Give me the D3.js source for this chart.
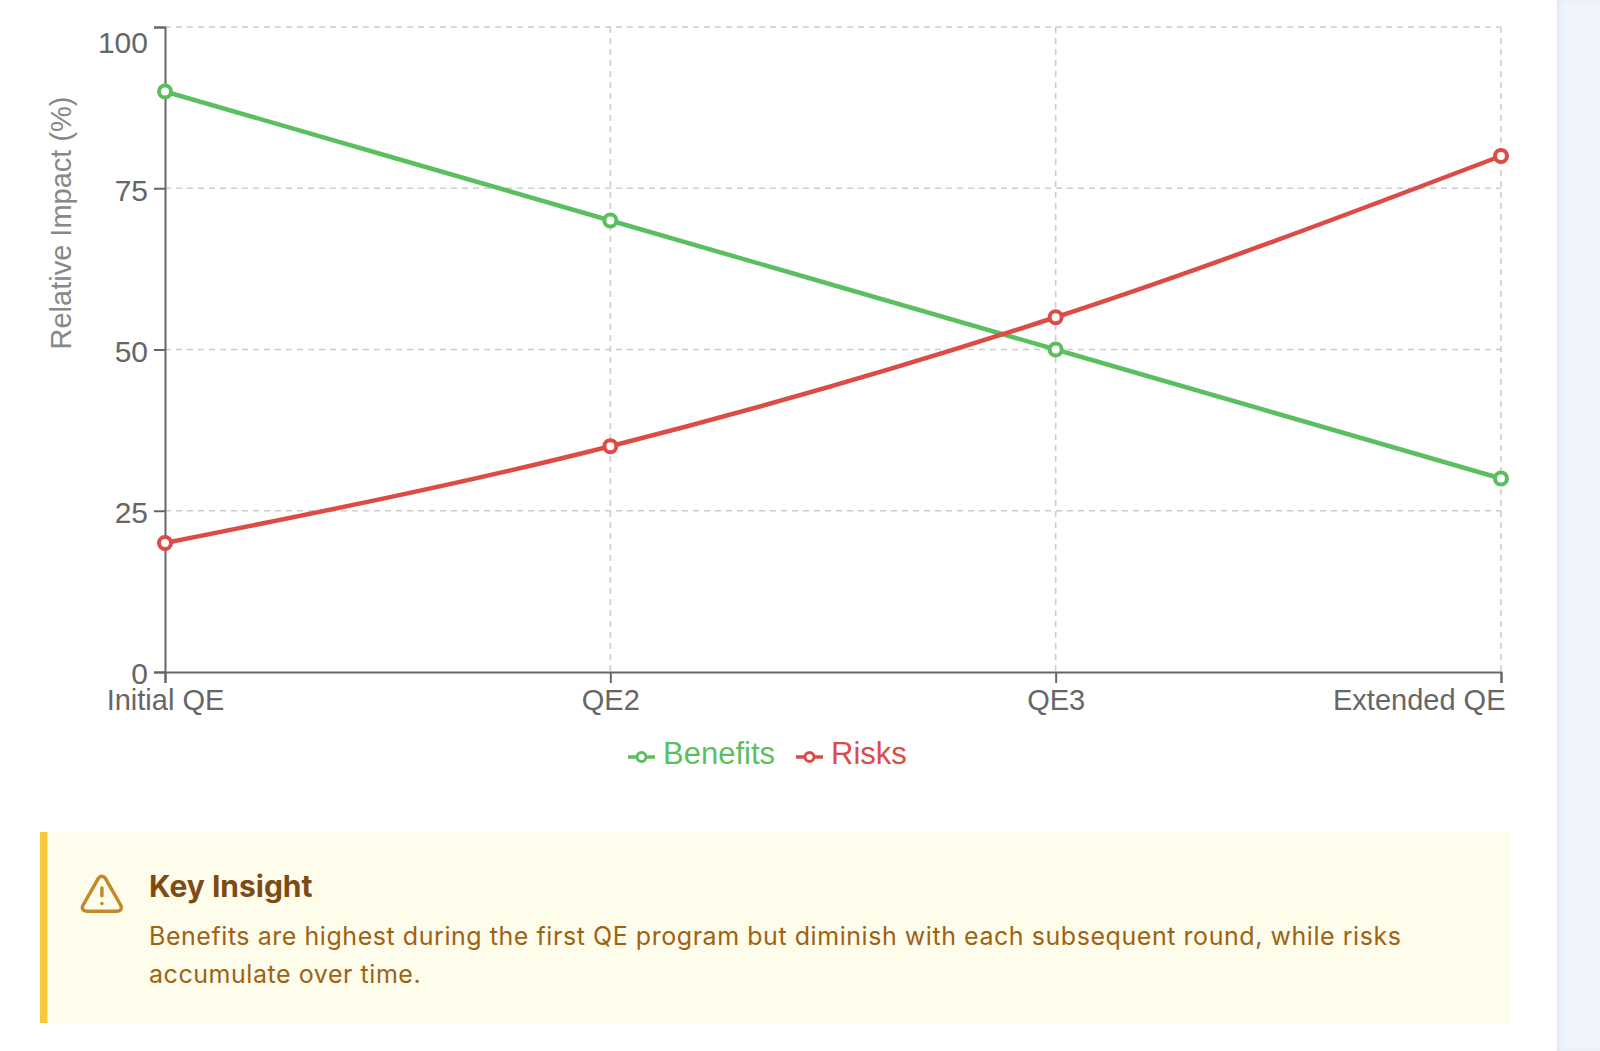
<!DOCTYPE html>
<html>
<head>
<meta charset="utf-8">
<script src="https://cdn.jsdelivr.net/npm/d3@7"></script>
<style>
  html, body { margin: 0; padding: 0; background: #ffffff; }
  body { width: 1600px; height: 1051px; overflow: hidden; position: relative; }
  #side { position: absolute; left: 1557px; top: 0; width: 43px; height: 1051px; background: #eff3fb; box-shadow: inset 3px 0 4px -2px rgba(200,210,230,0.6); }
  svg { position: absolute; left: 0; top: 0; }
</style>
</head>
<body>
<div id="side"></div>
<svg id="chart" width="1557" height="1051"></svg>
<script>
const categories = ["Initial QE", "QE2", "QE3", "Extended QE"];
const benefits = [90, 70, 50, 30];
const risks = [20, 35, 55, 80];
const yTicks = [0, 25, 50, 75, 100];
const seriesNames = ["Benefits", "Risks"];
const seriesColors = ["#5cbf5f", "#dc4b46"];
const yTitle = "Relative Impact (%)";
const insightTitle = "Key Insight";
const insightLines = [
  "Benefits are highest during the first QE program but diminish with each subsequent round, while risks",
  "accumulate over time."
];

(function () {
const svg = d3.select("#chart");
const font = "'Liberation Sans', Arial, Helvetica, sans-serif";
const pLeft = 165, pRight = 1501, pTop = 27, pBottom = 672;

const x = d3.scalePoint().domain(categories).range([pLeft, pRight]);
const y = d3.scaleLinear().domain([0, 100]).range([pBottom, pTop]);

// grid
const grid = svg.append("g");
grid.selectAll("line.h").data(yTicks.filter(v => v > 0)).join("line")
  .attr("x1", pLeft).attr("x2", pRight)
  .attr("y1", d => y(d)).attr("y2", d => y(d))
  .attr("stroke", "#cccccc").attr("stroke-width", 1.6).attr("stroke-dasharray", "6 5");
grid.selectAll("line.v").data(categories.slice(1)).join("line")
  .attr("x1", d => x(d)).attr("x2", d => x(d))
  .attr("y1", pTop).attr("y2", pBottom)
  .attr("stroke", "#cccccc").attr("stroke-width", 1.6).attr("stroke-dasharray", "6 5");

// y axis
const yAxis = d3.axisLeft(y).tickValues(yTicks).tickSize(11).tickPadding(6);
const gy = svg.append("g").attr("transform", `translate(${pLeft},0)`).call(yAxis);
gy.select(".domain").attr("stroke", "#666").attr("stroke-width", 2);
gy.selectAll(".tick line").attr("stroke", "#666").attr("stroke-width", 2);
gy.selectAll(".tick text")
  .attr("fill", "#666").attr("font-family", font).attr("font-size", 30)
  .attr("dy", "0.36em")
  .attr("y", d => Math.max(y(d), pTop + 14) - y(d) + 1);

// x axis
const xAxis = d3.axisBottom(x).tickSize(11).tickPadding(6);
const gx = svg.append("g").attr("transform", `translate(0,${pBottom})`).call(xAxis);
gx.select(".domain").attr("stroke", "#666").attr("stroke-width", 2);
gx.selectAll(".tick line").attr("stroke", "#666").attr("stroke-width", 2);
gx.selectAll(".tick text")
  .attr("fill", "#666").attr("font-family", font).attr("font-size", 29)
  .attr("y", 38).attr("dy", 0)
  .attr("text-anchor", (d, i) => i === categories.length - 1 ? "end" : "middle")
  .attr("x", (d, i) => i === categories.length - 1 ? 4 : 0);

// y title
svg.append("text")
  .attr("transform", `translate(71,223) rotate(-90)`)
  .attr("text-anchor", "middle")
  .attr("fill", "#888").attr("font-family", font).attr("font-size", 29)
  .text(yTitle);

// lines
const line = d3.line().x((d, i) => x(categories[i])).y(d => y(d)).curve(d3.curveMonotoneX);
[benefits, risks].forEach((vals, si) => {
  svg.append("path").datum(vals)
    .attr("d", line).attr("fill", "none")
    .attr("stroke", seriesColors[si]).attr("stroke-width", 4.5);
  svg.append("g").selectAll("circle").data(vals).join("circle")
    .attr("cx", (d, i) => x(categories[i])).attr("cy", d => y(d))
    .attr("r", 6).attr("fill", "#fff")
    .attr("stroke", seriesColors[si]).attr("stroke-width", 4);
});

// legend
const legendItems = [
  { name: seriesNames[0], color: seriesColors[0], x: 628 },
  { name: seriesNames[1], color: seriesColors[1], x: 796 }
];
const lg = svg.append("g");
legendItems.forEach(it => {
  const g = lg.append("g").attr("transform", `translate(${it.x},757)`);
  g.append("line").attr("x1", 0).attr("x2", 27).attr("y1", 0).attr("y2", 0)
    .attr("stroke", it.color).attr("stroke-width", 3.5);
  g.append("circle").attr("cx", 13.5).attr("cy", 0).attr("r", 4.5)
    .attr("fill", "#fff").attr("stroke", it.color).attr("stroke-width", 3);
  g.append("text").attr("x", 35).attr("y", 6.5).attr("fill", it.color)
    .attr("font-family", font).attr("font-size", 31).text(it.name);
});

// insight box
const box = svg.append("g");
box.append("rect").attr("x", 40).attr("y", 832).attr("width", 1470).attr("height", 191).attr("fill", "#fefceb");
box.append("rect").attr("x", 40).attr("y", 832).attr("width", 7.5).attr("height", 191).attr("fill", "#f4c93e");
const icon = box.append("g").attr("transform", "translate(78.5,870.4) scale(1.95)")
  .attr("fill", "none").attr("stroke", "#c28a2a").attr("stroke-width", 1.8)
  .attr("stroke-linecap", "round").attr("stroke-linejoin", "round");
icon.append("path").attr("d", "m21.73 18-8-14a2 2 0 0 0-3.48 0l-8 14A2 2 0 0 0 4 21h16a2 2 0 0 0 1.73-3Z");
icon.append("path").attr("d", "M12 9v4");
icon.append("path").attr("d", "M12 17h.01");
const ifont = "Inter, 'Noto Sans', sans-serif";
box.append("text").attr("x", 149).attr("y", 897).attr("fill", "#7f4b15")
  .attr("font-family", ifont).attr("font-weight", 700).attr("font-size", 30).text(insightTitle);
box.append("g").selectAll("text").data(insightLines).join("text")
  .attr("x", 149).attr("y", (d, i) => 945.3 + i * 37.7)
  .attr("fill", "#9f6212").attr("font-family", ifont).attr("font-size", 25)
  .attr("letter-spacing", 0.55).text(d => d);
})();
</script>
</body>
</html>
